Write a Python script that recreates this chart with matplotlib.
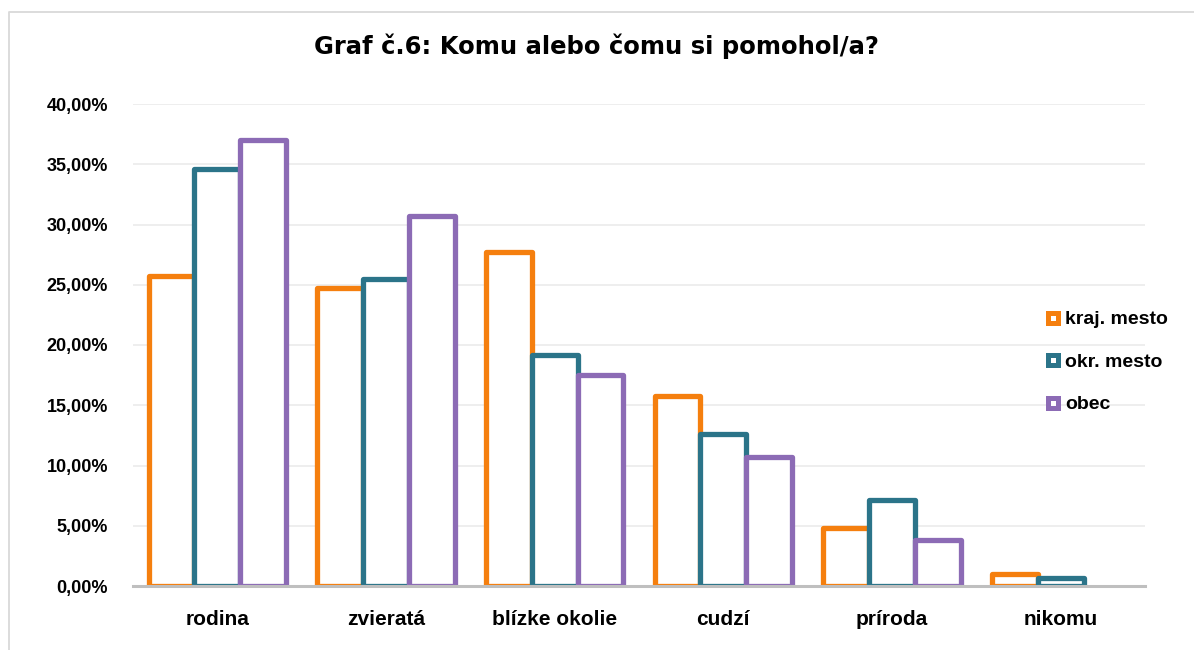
import numpy as np
import matplotlib.pyplot as plt
from matplotlib.patches import Rectangle
from matplotlib.lines import Line2D

# data (percent)
categories = ['rodina', 'zvieratá', 'blízke okolie', 'cudzí', 'príroda', 'nikomu']
kraj_mesto = [25.7, 24.7, 27.7, 15.8, 4.8, 1.0]
okr_mesto = [34.6, 25.5, 19.2, 12.6, 7.1, 0.65]
obec = [37.0, 30.7, 17.5, 10.7, 3.8, 0.0]
series_names = ['kraj. mesto', 'okr. mesto', 'obec']
colors = ['#F57F0E', '#2B7489', '#8C6BB5']
yticks = [0, 5, 10, 15, 20, 25, 30, 35, 40]

fig = plt.figure(figsize=(11.94, 6.5), dpi=100)
ax = fig.add_axes([133 / 1194, 1 - 586 / 650, (1145 - 133) / 1194, (586 - 104) / 650])

# chart border (only top and left edges are visible in the crop)
bx, by = 8.5 / 1194, 1 - 11.5 / 650
fig.lines.append(Line2D([bx, bx, 1.0], [0.0, by, by], transform=fig.transFigure,
                        color='#D9D9D9', lw=1.3))

x = np.arange(len(categories))
w = 0.272
for i, (vals, col) in enumerate(zip([kraj_mesto, okr_mesto, obec], colors)):
    xs = x + (i - 1) * w
    for xi, v in zip(xs, vals):
        if v <= 0:
            continue
        ax.add_patch(Rectangle((xi - w / 2, 0), w, v, facecolor='white',
                               edgecolor=col, lw=3.8, joinstyle='round', zorder=3 + i))

tick_font = {'family': 'Liberation Sans', 'weight': 'bold'}
ax.set_xlim(-0.5, len(categories) - 0.5)
ax.set_ylim(0, 40)
ax.set_yticks(yticks)
ax.set_yticklabels([f'{t:.2f}'.replace('.', ',') + '%' for t in yticks], fontsize=13, **tick_font)
ax.set_xticks(x)
ax.set_xticklabels(categories, fontsize=15, **tick_font)
ax.tick_params(axis='both', length=0)
ax.tick_params(axis='y', pad=18)
ax.tick_params(axis='x', pad=17)
ax.grid(axis='y', color='#EBEBEB', lw=1.2, zorder=0)
ax.set_axisbelow(True)
for s in ax.spines.values():
    s.set_visible(False)
ax.axhline(0, color='#BFBFBF', lw=2.2, zorder=8, clip_on=False)

fig.text(0.5, 1 - 46 / 650, 'Graf č.6: Komu alebo čomu si pomohol/a?', ha='center', va='center',
         fontsize=17.5, fontweight='bold', family='DejaVu Sans')

handles = [Line2D([], [], ls='none', marker='s', markersize=7.5, markerfacecolor='white',
                  markeredgecolor=c, markeredgewidth=3.6) for c in colors]
leg = fig.legend(handles, series_names, loc='center left', bbox_to_anchor=(1030 / 1194, 1 - 362 / 650),
                 frameon=False, handlelength=0.6, handletextpad=0.3, labelspacing=1.28,
                 prop={'family': 'Liberation Sans', 'weight': 'bold', 'size': 14})

fig.savefig('out.png', dpi=100, facecolor='white')
